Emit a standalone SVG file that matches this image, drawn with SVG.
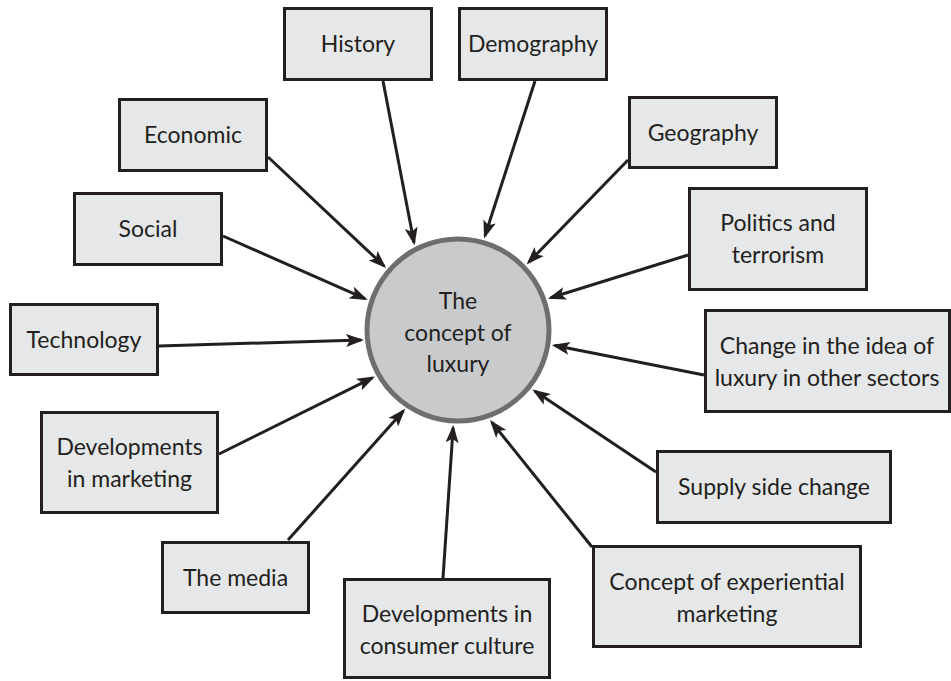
<svg xmlns="http://www.w3.org/2000/svg" width="951" height="681" viewBox="0 0 951 681">
  <style>
    .box { fill: #e6e7e8; stroke: #231f20; stroke-width: 3; }
    .lbl { font-family: Lato, "Liberation Sans", sans-serif; font-size: 23px; fill: #231f20; text-anchor: middle; }
    .conn line { stroke: #231f20; stroke-width: 3; marker-end: url(#arrow); }
    .hub { fill: #c9cacc; stroke: #6d6e70; stroke-width: 5; }
  </style>
  <defs>
    <marker id="arrow" markerUnits="userSpaceOnUse" markerWidth="19" markerHeight="15" refX="15" refY="7.5" orient="auto">
      <path d="M0,1 L18,7.5 L0,14 L4,7.5 Z" fill="#231f20"/>
    </marker>
  </defs>
  <rect width="951" height="681" fill="#ffffff"/>

  <!-- connectors: every factor points at the central concept -->
  <g id="connectors" class="conn">
    <line x1="383" y1="81" x2="414" y2="242.5"/>
    <line x1="535" y1="81" x2="485" y2="235.7"/>
    <line x1="268" y1="157" x2="384" y2="266"/>
    <line x1="223" y1="236" x2="365" y2="298.7"/>
    <line x1="159" y1="346" x2="361" y2="340"/>
    <line x1="219" y1="454" x2="372.3" y2="377.8"/>
    <line x1="288" y1="540" x2="403.3" y2="411.1"/>
    <line x1="443" y1="578" x2="453.1" y2="427.8"/>
    <line x1="592" y1="547" x2="491.8" y2="422.3"/>
    <line x1="656" y1="472" x2="534.8" y2="391.1"/>
    <line x1="704" y1="375" x2="554.7" y2="345.5"/>
    <line x1="688" y1="255" x2="550.7" y2="297.8"/>
    <line x1="628" y1="160" x2="528.7" y2="262.3"/>
  </g>

  <g id="concept">
    <circle class="hub" cx="458" cy="330" r="91"/>
    <text class="lbl" x="458" y="309">The</text>
    <text class="lbl" x="458" y="340.5">concept of</text>
    <text class="lbl" x="458" y="372">luxury</text>
  </g>

  <g id="history">
    <rect class="box" x="284.5" y="8.5" width="147" height="71"/>
    <text class="lbl" x="358" y="52">History</text>
  </g>
  <g id="demography">
    <rect class="box" x="459.5" y="8.5" width="147" height="71"/>
    <text class="lbl" x="533" y="52">Demography</text>
  </g>
  <g id="economic">
    <rect class="box" x="119.5" y="99.5" width="147" height="71"/>
    <text class="lbl" x="193" y="143">Economic</text>
  </g>
  <g id="geography">
    <rect class="box" x="629.5" y="97.5" width="147" height="70"/>
    <text class="lbl" x="703" y="141">Geography</text>
  </g>
  <g id="social">
    <rect class="box" x="74.5" y="193.5" width="147" height="71"/>
    <text class="lbl" x="148" y="237">Social</text>
  </g>
  <g id="politics">
    <rect class="box" x="689.5" y="188.5" width="177" height="101"/>
    <text class="lbl" x="778" y="231">Politics and</text>
    <text class="lbl" x="778" y="263">terrorism</text>
  </g>
  <g id="technology">
    <rect class="box" x="10.5" y="304.5" width="147" height="70"/>
    <text class="lbl" x="84" y="348">Technology</text>
  </g>
  <g id="other-sectors">
    <rect class="box" x="705.5" y="310.5" width="244" height="101"/>
    <text class="lbl" x="827" y="354">Change in the idea of</text>
    <text class="lbl" x="827" y="386">luxury in other sectors</text>
  </g>
  <g id="marketing">
    <rect class="box" x="41.5" y="412.5" width="176" height="100"/>
    <text class="lbl" x="129.5" y="455">Developments</text>
    <text class="lbl" x="129.5" y="487">in marketing</text>
  </g>
  <g id="supply">
    <rect class="box" x="657.5" y="451.5" width="233" height="71"/>
    <text class="lbl" x="774" y="495">Supply side change</text>
  </g>
  <g id="media">
    <rect class="box" x="162.5" y="542.5" width="146" height="70"/>
    <text class="lbl" x="235.5" y="586">The media</text>
  </g>
  <g id="consumer-culture">
    <rect class="box" x="344.5" y="579.5" width="205" height="98"/>
    <text class="lbl" x="447" y="622">Developments in</text>
    <text class="lbl" x="447" y="654">consumer culture</text>
  </g>
  <g id="experiential">
    <rect class="box" x="593.5" y="546.5" width="267" height="100"/>
    <text class="lbl" x="727" y="590">Concept of experiential</text>
    <text class="lbl" x="727" y="622">marketing</text>
  </g>
</svg>
